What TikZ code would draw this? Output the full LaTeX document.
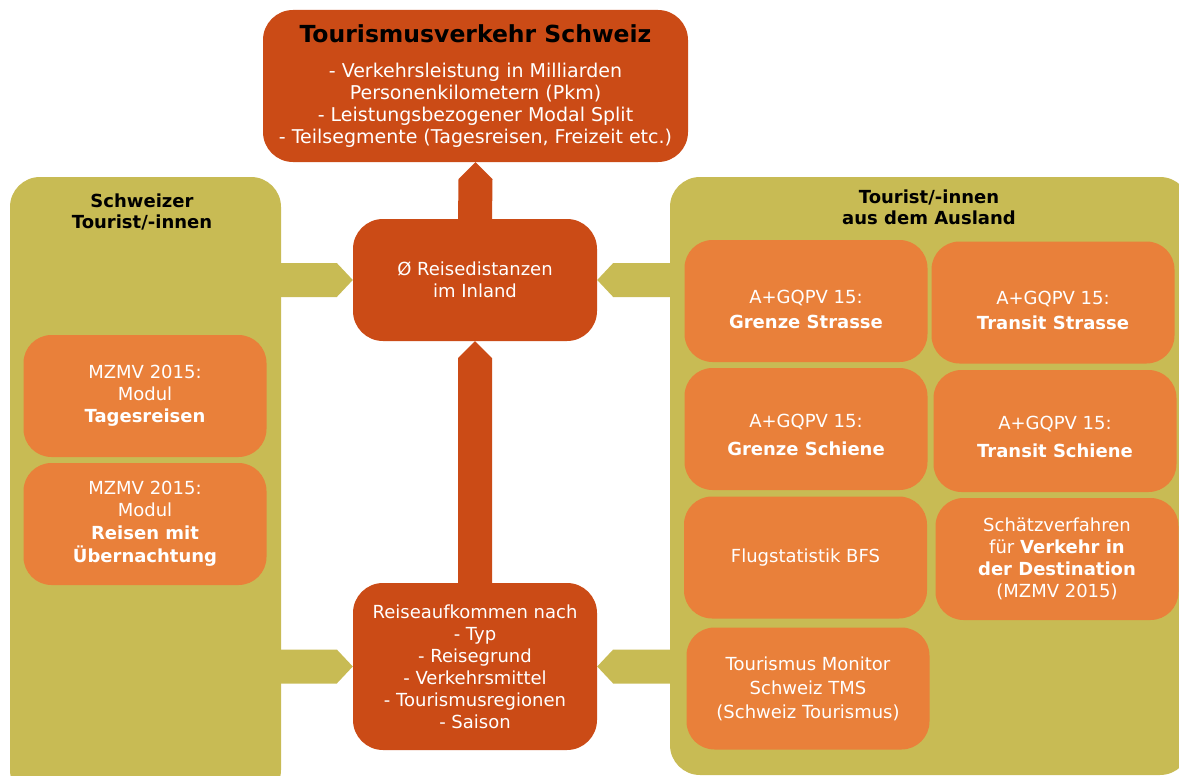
\documentclass[tikz,border=0pt]{standalone}
\usepackage{fontspec}
\setmainfont{DejaVu Sans}
\usetikzlibrary{calc}
\definecolor{rust}{RGB}{203,75,22}
\definecolor{tangerine}{RGB}{233,128,58}
\definecolor{olivepanel}{RGB}{200,187,84}
\tikzset{
  body/.style={font=\fontsize{18}{22}\selectfont},
  mainbox/.style={body, fill=rust, text=white, rounded corners=30pt, align=center, inner sep=0pt},
  panel/.style={fill=olivepanel, rounded corners=30pt, inner sep=0pt},
  srcbox/.style={body, fill=tangerine, text=white, rounded corners=28pt, align=center,
    inner sep=0pt, minimum width=243pt, minimum height=122pt},
  srctext/.style={body, text=white, align=center, inner sep=0pt},
  paneltitle/.style={font=\fontsize{18}{21}\selectfont\bfseries, text=black, align=center, inner sep=0pt},
  olivearrow/.style={fill=olivepanel},
  rustarrow/.style={fill=rust}
}
\begin{document}
\begin{tikzpicture}[x=1pt,y=-1pt]
\useasboundingbox (0,0) rectangle (1179,776);

% side panels
\node[panel, minimum width=271pt, minimum height=623pt] (lp) at (145.5,488.5) {};
\node[panel, minimum width=520pt, minimum height=598pt] (rp) at (930,476) {};
\node[paneltitle] (lpt) at (142,212) {Schweizer\\Tourist/-innen};
\node[paneltitle] (rpt) at (929,207.5) {Tourist/-innen\\aus dem Ausland};

% central chain
\node[mainbox, font=\fontsize{19}{22}\selectfont, minimum width=425pt, minimum height=152pt] (top) at (475.5,86) {%
  {\fontsize{23.5}{26}\selectfont\bfseries\color{black}Tourismusverkehr Schweiz}\\[13pt]
  - Verkehrsleistung in Milliarden\\
  Personenkilometern (Pkm)\\
  - Leistungsbezogener Modal Split\\
  - Teilsegmente (Tagesreisen, Freizeit etc.)};
\node[mainbox, minimum width=244pt, minimum height=122pt] (mid) at (475,280) {%
  Ø Reisedistanzen\\im Inland};
\node[mainbox, minimum width=244pt, minimum height=167pt] (bot) at (475,666.5) {%
  Reiseaufkommen nach\\- Typ\\- Reisegrund\\- Verkehrsmittel\\- Tourismusregionen\\- Saison};

% sources for domestic tourists
\node[srcbox] (tag) at (145,396) {MZMV 2015:\\Modul\\\textbf{Tagesreisen}};
\node[srcbox] (ueb) at (145,524) {MZMV 2015:\\Modul\\[1pt]\textbf{Reisen mit}\\[1pt]\textbf{Übernachtung}};

% sources for foreign tourists (their two text lines sit a little below the middle)
\node[srcbox, label={[srctext, yshift=-8pt]center:{A+GQPV 15:\\[3pt]\textbf{Grenze Strasse}}}] (gstr) at (806,301) {};
\node[srcbox, label={[srctext, yshift=-8pt]center:{A+GQPV 15:\\[3pt]\textbf{Transit Strasse}}}] (tstr) at (1053,302.5) {};
\node[srcbox, label={[srctext, yshift=-6pt]center:{A+GQPV 15:\\[6pt]\textbf{Grenze Schiene}}}] (gsch) at (806,429) {};
\node[srcbox, label={[srctext, yshift=-6pt]center:{A+GQPV 15:\\[6pt]\textbf{Transit Schiene}}}] (tsch) at (1055,431) {};
\node[srcbox] (flug) at (805.5,557.5) {Flugstatistik BFS};
\node[srcbox] (schaetz) at (1057,559) {Schätzverfahren\\für \textbf{Verkehr in}\\\textbf{der Destination}\\(MZMV 2015)};
\node[srcbox, font=\fontsize{18}{24}\selectfont] (tms) at (808,688.5) {Tourismus Monitor\\Schweiz TMS\\(Schweiz Tourismus)};

% block arrows from the panels into the central boxes
\fill[olivearrow] ($(lp.east|-mid.west)+(-3,-17)$) -- ($(mid.west)+(-16,-17)$) -- (mid.west)
  -- ($(mid.west)+(-16,17)$) -- ($(lp.east|-mid.west)+(-3,17)$) -- cycle;
\fill[olivearrow] ($(lp.east|-bot.west)+(-3,-17)$) -- ($(bot.west)+(-16,-17)$) -- (bot.west)
  -- ($(bot.west)+(-16,17)$) -- ($(lp.east|-bot.west)+(-3,17)$) -- cycle;
\fill[olivearrow] ($(rp.west|-mid.east)+(3,-17)$) -- ($(mid.east)+(16,-17)$) -- (mid.east)
  -- ($(mid.east)+(16,17)$) -- ($(rp.west|-mid.east)+(3,17)$) -- cycle;
\fill[olivearrow] ($(rp.west|-bot.east)+(3,-17)$) -- ($(bot.east)+(16,-17)$) -- (bot.east)
  -- ($(bot.east)+(16,17)$) -- ($(rp.west|-bot.east)+(3,17)$) -- cycle;

% block arrows up the central chain
\fill[rustarrow] ($(bot.north)+(-17,3)$) -- ($(mid.south)+(-17,17)$) -- (mid.south)
  -- ($(mid.south)+(17,17)$) -- ($(bot.north)+(17,3)$) -- cycle;
\fill[rustarrow] ($(mid.north)+(-17,3)$) -- ($(top.south)+(-17,17)$) -- (top.south)
  -- ($(top.south)+(17,17)$) -- ($(mid.north)+(17,3)$) -- cycle;
\end{tikzpicture}
\end{document}
